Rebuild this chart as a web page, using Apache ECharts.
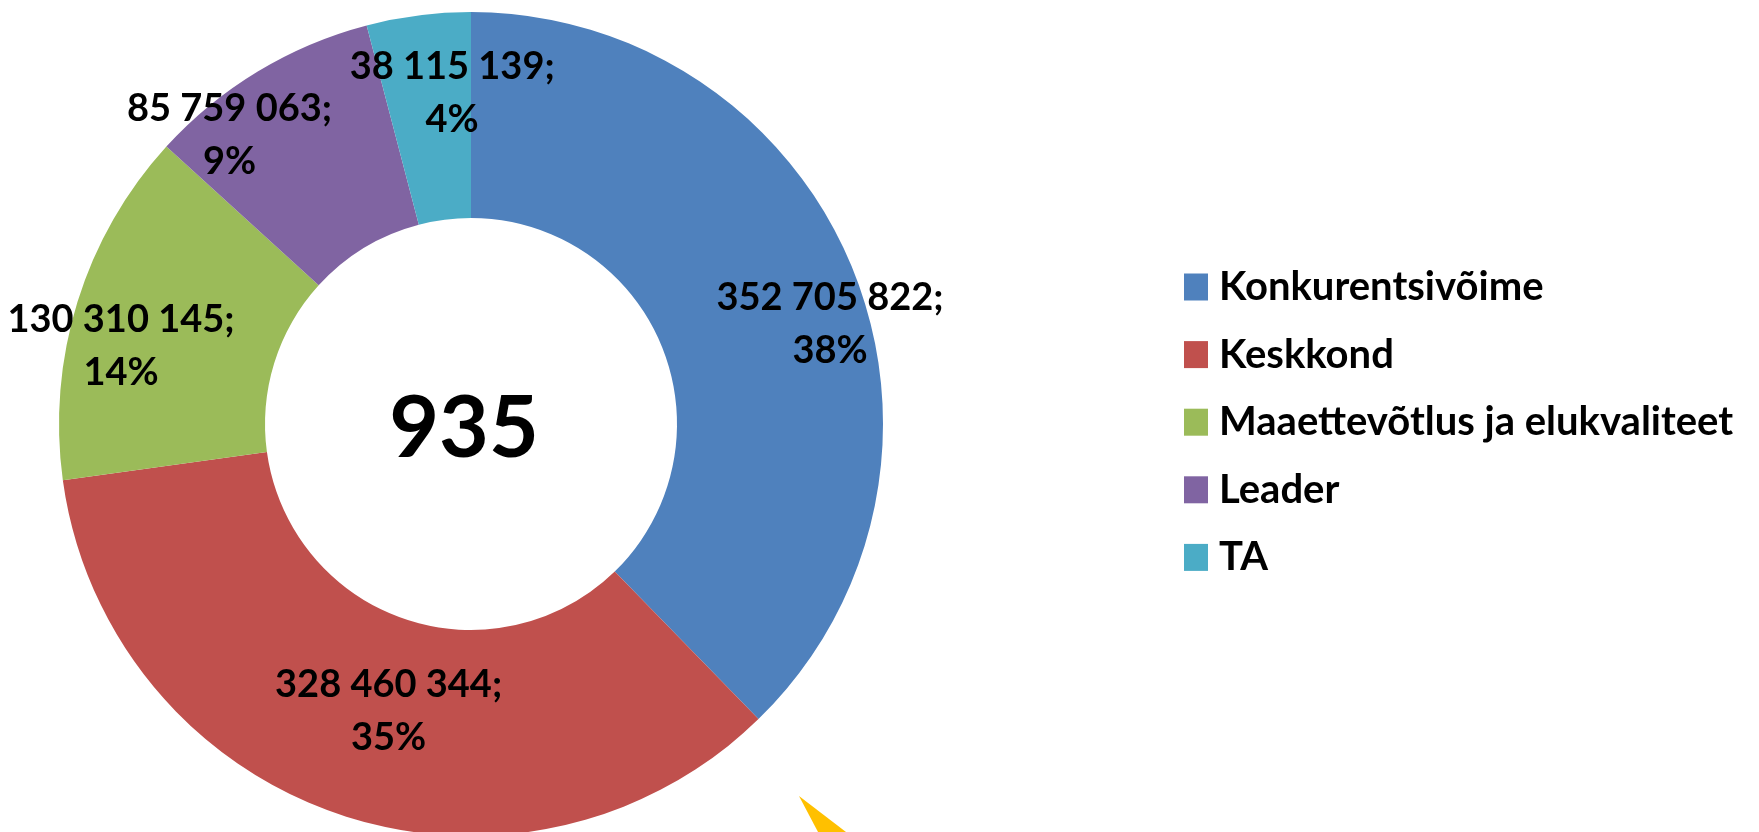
<!DOCTYPE html>
<html>
<head>
<meta charset="utf-8">
<script src="https://cdn.jsdelivr.net/npm/echarts@6/dist/echarts.min.js"></script>
<style>
  html, body { margin: 0; padding: 0; background: #fff; }
  #chart { width: 1759px; height: 832px; }
</style>
</head>
<body>
<div id="chart"></div>
<script>
// 数据
var names = ['Konkurentsivõime', 'Keskkond', 'Maaettevõtlus ja elukvaliteet', 'Leader', 'TA']
var values = [352705822, 328460344, 130310145, 85759063, 38115139]
var colors = ['#4F81BD', '#C0504D', '#9BBB59', '#8064A2', '#4BACC6']
var totalText = '935'
// 标签相对环中线的偏移
var labelNudge = [[70, 18], [19, -8], [-52, 15], [-80, -22], [21, -21]]

var font = 'Lato, "Open Sans", sans-serif'

// 千分位用空格
function fmt (v) {
  return String(v).replace(/\B(?=(\d{3})+(?!\d))/g, ' ')
}

var chart = echarts.init(document.getElementById('chart'))
chart.setOption({
  animation: false,
  color: colors,
  textStyle: { fontFamily: font },
  legend: {
    orient: 'vertical',
    left: 1184,
    top: 267,
    padding: 0,
    icon: 'rect',
    itemWidth: 24,
    itemHeight: 27,
    itemGap: 27.6,
    selectedMode: false,
    data: names,
    textStyle: {
      fontFamily: font,
      fontSize: 40,
      fontWeight: 'bold',
      color: '#000',
      padding: [0, 0, 0, 6]
    }
  },
  graphic: [
    {
      type: 'text',
      x: 464,
      y: 429,
      style: {
        text: totalText,
        fontFamily: font,
        fontSize: 86,
        fontWeight: 'bold',
        fill: '#000',
        textAlign: 'center',
        textVerticalAlign: 'middle'
      }
    },
    {
      // 右下角的黄色装饰
      type: 'polygon',
      shape: { points: [[799, 796], [846, 832], [818, 832]] },
      style: { fill: '#FFC000' }
    }
  ],
  series: [{
    type: 'pie',
    center: [471, 424],
    radius: [206, 412],
    startAngle: 90,
    clockwise: true,
    silent: true,
    itemStyle: { borderWidth: 0 },
    labelLine: { show: false },
    label: {
      position: 'inside',
      fontFamily: font,
      fontSize: 38,
      fontWeight: 'bold',
      color: '#000',
      lineHeight: 53,
      align: 'center',
      formatter: function (p) {
        return fmt(p.value) + ';\n' + Math.round(p.percent) + '%'
      }
    },
    labelLayout: function (p) {
      var n = labelNudge[p.dataIndex]
      return { dx: n[0], dy: n[1] }
    },
    data: names.map(function (n, i) {
      return { name: n, value: values[i] }
    })
  }]
})
</script>
</body>
</html>
